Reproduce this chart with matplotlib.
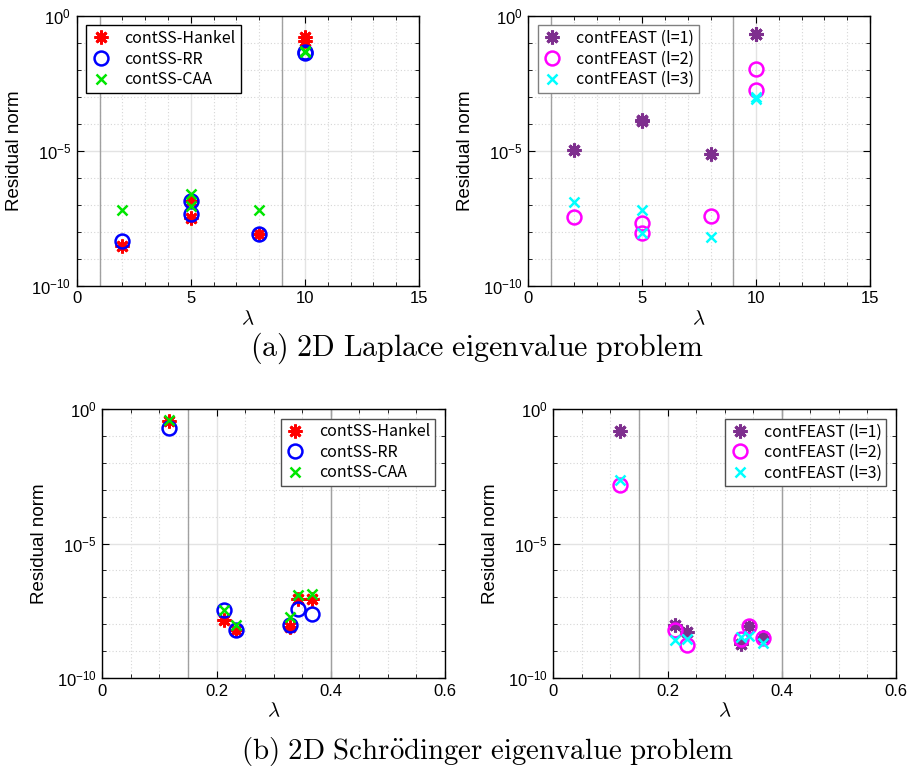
import numpy as np
import matplotlib
matplotlib.use("Agg")
import matplotlib.pyplot as plt
from matplotlib.ticker import FixedLocator, MultipleLocator, NullFormatter

plt.rcParams['font.family'] = ['Liberation Sans', 'DejaVu Sans']
plt.rcParams['mathtext.fontset'] = 'custom'
plt.rcParams['mathtext.rm'] = 'Liberation Sans'
plt.rcParams['mathtext.it'] = 'Liberation Sans:italic'
plt.rcParams['axes.unicode_minus'] = True

# ---- (a) 2D Laplace: eigenvalues and log10 residual norms ----
lap_lam = [2, 5, 5, 8, 10, 10]
lap_hankel = [-8.52, -6.85, -7.50, -8.10, -0.80, -0.95]
lap_rr = [-8.35, -6.86, -7.36, -8.09, -1.36, -1.40]
lap_caa = [-7.21, -6.62, -7.04, -7.21, -1.31, -1.35]
lap_feast1 = [-4.99, -3.87, -3.90, -5.14, -0.66, -0.68]
lap_feast2 = [-7.44, -7.69, -8.04, -7.40, -1.97, -2.74]
lap_feast3 = [-6.90, -7.21, -8.04, -8.20, -3.00, -3.09]
lap_interval = [1, 9]
lap_xticks = [0, 5, 10, 15]
lap_xticklabels = ['0', '5', '10', '15']

# ---- (b) 2D Schroedinger ----
sch_lam = [0.1173, 0.2124, 0.2334, 0.3285, 0.3419, 0.3676]
sch_hankel = [-0.43, -7.83, -8.20, -8.09, -7.06, -7.06]
sch_rr = [-0.71, -7.48, -8.23, -8.04, -7.43, -7.61]
sch_caa = [-0.40, -7.46, -8.02, -7.74, -6.90, -6.88]
sch_feast1 = [-0.81, -8.02, -8.29, -8.72, -8.08, -8.48]
sch_feast2 = [-2.81, -8.20, -8.76, -8.55, -8.08, -8.51]
sch_feast3 = [-2.63, -8.57, -8.55, -8.49, -8.45, -8.70]
sch_interval = [0.15, 0.4]
sch_xticks = [0, 0.2, 0.4, 0.6]
sch_xticklabels = ['0', '0.2', '0.4', '0.6']

ss_labels = ['contSS-Hankel', 'contSS-RR', 'contSS-CAA']
feast_labels = ['contFEAST (l=1)', 'contFEAST (l=2)', 'contFEAST (l=3)']
ytick_vals = [1e-10, 1e-5, 1e0]
ytick_labels = [r'$10^{-10}$', r'$10^{-5}$', r'$10^{0}$']

W, H = 914, 774
fig = plt.figure(figsize=(W / 100, H / 100), dpi=100)


def add_ax(x0, x1, ytop, ybot):
    return fig.add_axes([x0 / W, 1 - ybot / H, (x1 - x0) / W, (ybot - ytop) / H])


STAR = (8, 2, 0)
styles_ss = [dict(marker=STAR, color='#ff0000', ms=10, mew=2.0),
             dict(marker='o', mfc='none', mec='#0000ff', ms=10, mew=1.8),
             dict(marker='x', color='#00e600', ms=7, mew=1.8)]
styles_fe = [dict(marker=STAR, color='#7e2f8e', ms=10, mew=2.2),
             dict(marker='o', mfc='none', mec='#ff00ff', ms=10, mew=1.8),
             dict(marker='x', color='#00ffff', ms=7, mew=1.8)]


def panel(ax, lam, series, styles, labels, xlim, xticks, xtl, xminor,
          interval, loc, legend_edge):
    for vals, st, lab in zip(series, styles, labels):
        ax.plot(lam, 10.0 ** np.array(vals), linestyle='none', label=lab, **st)
    ax.set_yscale('log')
    ax.set_ylim(1e-10, 1e0)
    ax.set_xlim(*xlim)
    ax.yaxis.set_major_locator(FixedLocator(ytick_vals))
    ax.yaxis.set_minor_locator(FixedLocator([10.0 ** k for k in range(-10, 1)]))
    ax.yaxis.set_minor_formatter(NullFormatter())
    ax.set_yticklabels(ytick_labels)
    ax.xaxis.set_major_locator(FixedLocator(xticks))
    ax.xaxis.set_minor_locator(MultipleLocator(xminor))
    ax.set_xticklabels(xtl)
    ax.grid(True, which='major', color='#e3e3e3', lw=1.0, ls='-')
    ax.grid(True, which='minor', color='#d6d6d6', lw=0.8, ls=(0, (1, 2)))
    ax.set_axisbelow(True)
    for v in interval:
        ax.axvline(v, color='#a0a0a0', lw=1.0, zorder=1.5)
    ax.tick_params(which='both', direction='in', top=True, right=True,
                   labelsize=12, pad=4)
    ax.tick_params(which='major', length=5)
    ax.tick_params(which='minor', length=3)
    for s in ax.spines.values():
        s.set_linewidth(1.0)
    ax.set_ylabel('Residual norm', fontsize=13.5)
    ax.yaxis.set_label_coords(-0.158, 0.5)
    ax.set_xlabel(r'$\lambda$', fontsize=15, math_fontfamily='cm', labelpad=2)
    leg = ax.legend(loc=loc, frameon=True, fancybox=False,
                    framealpha=1, edgecolor=legend_edge, handlelength=1.2,
                    handletextpad=0.9, borderpad=0.3, labelspacing=0.22,
                    borderaxespad=0.6, numpoints=1,
                    prop={'family': ['Noto Sans CJK JP', 'DejaVu Sans'], 'size': 11.5})
    leg.get_frame().set_linewidth(1.0)


ax1 = add_ax(76.7, 419, 15.7, 285.7)
panel(ax1, lap_lam, [lap_hankel, lap_rr, lap_caa], styles_ss, ss_labels,
      (0, 15), lap_xticks, lap_xticklabels, 1, lap_interval, 'upper left', '#000000')
ax2 = add_ax(528.3, 870, 15.7, 285.7)
panel(ax2, lap_lam, [lap_feast1, lap_feast2, lap_feast3], styles_fe, feast_labels,
      (0, 15), lap_xticks, lap_xticklabels, 1, lap_interval, 'upper left', '#808080')
ax3 = add_ax(102.3, 445, 409, 678)
panel(ax3, sch_lam, [sch_hankel, sch_rr, sch_caa], styles_ss, ss_labels,
      (0, 0.6), sch_xticks, sch_xticklabels, 0.05, sch_interval, 'upper right', '#505050')
ax4 = add_ax(553.3, 896, 409, 678)
panel(ax4, sch_lam, [sch_feast1, sch_feast2, sch_feast3], styles_fe, feast_labels,
      (0, 0.6), sch_xticks, sch_xticklabels, 0.05, sch_interval, 'upper right', '#505050')

fig.text(250 / W, 1 - 348 / H, r'$\mathrm{(a)\ 2D\ Laplace\ eigenvalue\ problem}$',
         ha='left', va='center', fontsize=21.5, math_fontfamily='cm')
fig.text(241 / W, 1 - 752 / H, r'$\mathrm{(b)\ 2D\ Schr\ddot{o}dinger\ eigenvalue\ problem}$',
         ha='left', va='center', fontsize=20.8, math_fontfamily='cm')

fig.savefig('out.png', dpi=100, facecolor='white')
